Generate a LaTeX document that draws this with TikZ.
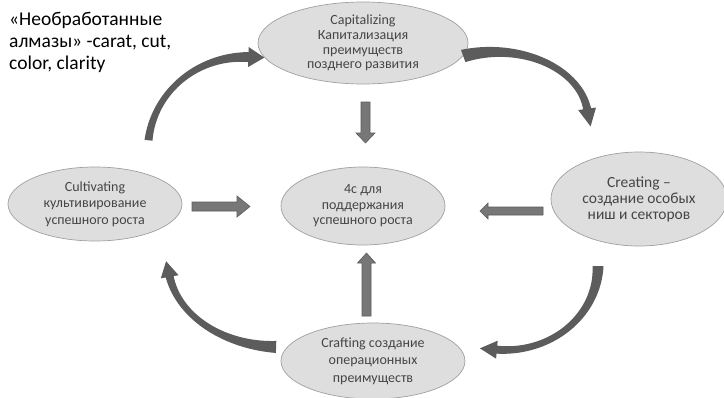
\documentclass[tikz,border=0pt]{standalone}
\usepackage{fontspec}
\setmainfont{Carlito}
\usetikzlibrary{shapes.geometric}
\definecolor{ellfill}{HTML}{DEDEDE}
\definecolor{elldraw}{HTML}{A0A0A0}
\definecolor{txtc}{HTML}{454545}
\definecolor{carr}{HTML}{5C5C5C}
\definecolor{sarr}{HTML}{777777}
\definecolor{sarrd}{HTML}{5C5C5C}
% curved tapered arrow: cx cy rx ry theta-tail theta-headbase w-tail w-mid w-headbase
\def\CAhw{9}\def\CAhl{16}
\newcommand\carrow[9]{%
 \pgfmathsetmacro\CAs{ifthenelse(#6>#5,1,-1)}%
 \pgfmathsetmacro\CAc{cos(#6)}\pgfmathsetmacro\CAsn{sin(#6)}%
 \pgfmathsetmacro\CAdx{-#3*\CAsn*\CAs}\pgfmathsetmacro\CAdy{#4*\CAc*\CAs}%
 \pgfmathsetmacro\CAdn{veclen(\CAdx,\CAdy)}%
 \pgfmathsetmacro\CAux{\CAdx/\CAdn}\pgfmathsetmacro\CAuy{\CAdy/\CAdn}%
 \pgfmathsetmacro\CAmx{#1+#3*\CAc}\pgfmathsetmacro\CAmy{#2+#4*\CAsn}%
 \pgfmathsetmacro\CAox{#1+(#3+\CAhw)*\CAc}\pgfmathsetmacro\CAoy{#2+(#4+\CAhw)*\CAsn}%
 \pgfmathsetmacro\CAix{#1+(#3-\CAhw)*\CAc}\pgfmathsetmacro\CAiy{#2+(#4-\CAhw)*\CAsn}%
 \pgfmathsetmacro\CApx{\CAmx+\CAhl*\CAux}\pgfmathsetmacro\CApy{\CAmy+\CAhl*\CAuy}%
 \def\CAS{((\x-(#5))/((#6)-(#5)))}%
 \def\CAW{(#7*(1-\CAS)*(1-\CAS)+2*#8*\CAS*(1-\CAS)+#9*\CAS*\CAS)}%
 \fill[carr] plot[domain=#5:#6,samples=60]
   ({#1+(#3+0.5*\CAW)*cos(\x)},{#2+(#4+0.5*\CAW)*sin(\x)})
   -- (\CAox,\CAoy) -- (\CApx,\CApy) -- (\CAix,\CAiy)
   -- plot[domain=#6:#5,samples=60]
   ({#1+(#3-0.5*\CAW)*cos(\x)},{#2+(#4-0.5*\CAW)*sin(\x)}) -- cycle;
}
\begin{document}
\begin{tikzpicture}[x=1pt,y=-1pt,
  ell/.style={ellipse, draw=elldraw, fill=ellfill, line width=0.7pt,
    inner sep=0pt, align=center, text=txtc},
  sarrow/.style={fill=sarr, draw=sarrd, line width=0.6pt, line join=miter}]
\useasboundingbox (0,0) rectangle (724,397);
\fill[white] (0,0) rectangle (724,397);

% title text
\node[anchor=north west, inner sep=0pt, align=left,
  font=\fontsize{19.5}{22}\selectfont] (title) at (9,12)
  {«Необработанные\\алмазы» -carat, cut,\\color, clarity};

% ellipses
\node[ell, minimum width=210, minimum height=82,
  font=\fontsize{14}{14.7}\selectfont] (cap) at (363,43)
  {Capitalizing\\Капитализация\\преимуществ\\позднего развития};
\node[ell, minimum width=164, minimum height=78,
  font=\fontsize{14}{15.5}\selectfont] (core) at (363,206)
  {4с для\\поддержания\\успешного роста};
\node[ell, minimum width=174, minimum height=74,
  font=\fontsize{14}{16.7}\selectfont] (cult) at (95,204)
  {Cultivating\\культивирование\\успешного роста};
\node[ell, minimum width=176, minimum height=94,
  font=\fontsize{15.5}{16}\selectfont] (crea) at (639,199)
  {Creating –\\создание особых\\ниш и секторов};
\node[ell, minimum width=184, minimum height=76,
  font=\fontsize{14}{17.5}\selectfont] (craf) at (373,361)
  {Crafting создание\\операционных\\преимуществ};

% straight arrows
\fill[sarrow] (361,102) -- (370,102) -- (370,133) -- (375,133) -- (365.5,143)
  -- (356,133) -- (361,133) -- cycle;
\fill[sarrow] (362,316) -- (371,316) -- (371,263) -- (375.5,263) -- (366.5,253)
  -- (357.5,263) -- (362,263) -- cycle;
\fill[sarrow] (192,202) -- (237,202) -- (237,196) -- (250,206.5) -- (237,217)
  -- (237,211) -- (192,211) -- cycle;
\fill[sarrow] (543,207) -- (488,207) -- (488,203) -- (480,211) -- (488,219)
  -- (488,215) -- (543,215) -- cycle;

% curved arrows
\def\CAhw{10}\def\CAhl{16}
\carrow{245}{150}{97}{93}{186}{272}{8}{3.5}{10}
\def\CAhw{9}\def\CAhl{18}
\carrow{495}{118}{93}{66}{-110}{-8}{13}{4}{8}
\def\CAhw{9}\def\CAhl{17}
\carrow{505}{266}{93}{84}{0}{95}{11}{4}{8}
\def\CAhw{9}\def\CAhl{16}
\carrow{280}{262}{112}{85}{92}{170}{12}{3.5}{8}
\end{tikzpicture}
\end{document}
